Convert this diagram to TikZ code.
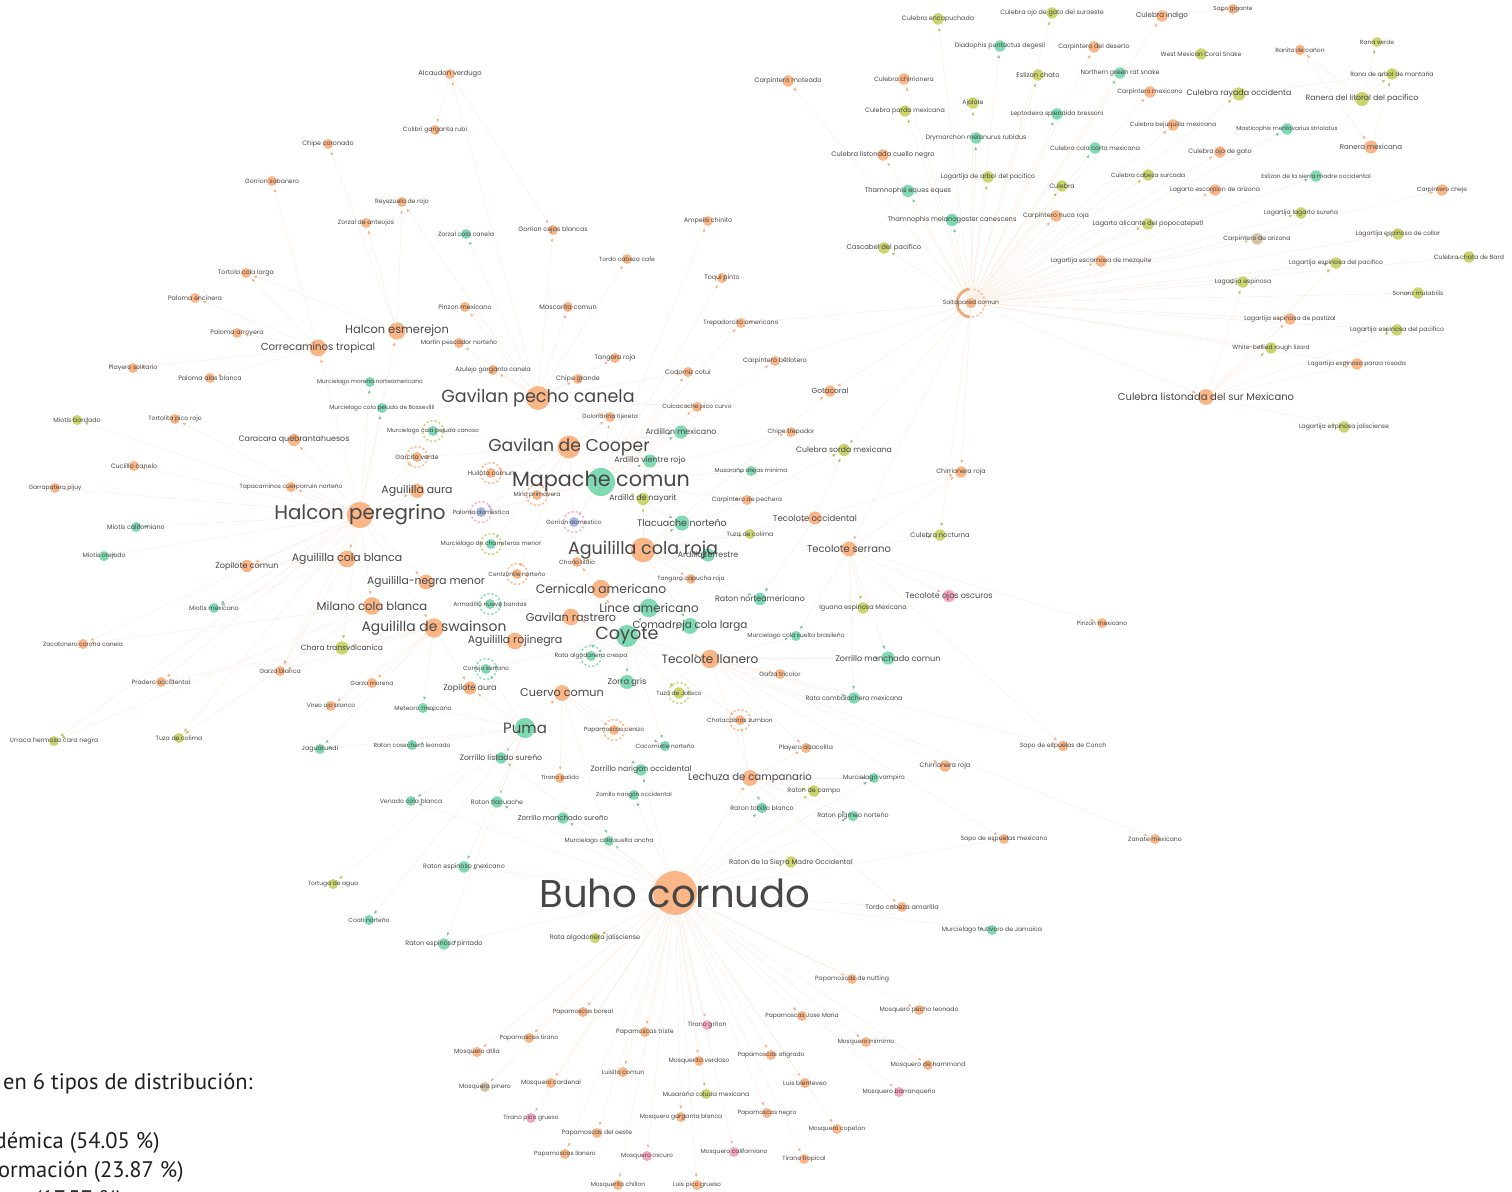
\documentclass[tikz,border=0pt]{standalone}
\usepackage{fontspec}
\setmainfont{Poppins}
\newfontfamily\legendfont{PT Sans}
\usetikzlibrary{arrows.meta, backgrounds}

\definecolor{nOr}{RGB}{251,182,135}
\definecolor{nGr}{RGB}{127,217,178}
\definecolor{nYe}{RGB}{203,212,110}
\definecolor{nPk}{RGB}{247,168,196}
\definecolor{nBl}{RGB}{170,185,232}
\definecolor{nTn}{RGB}{214,196,166}
\definecolor{edgec}{RGB}{252,237,226}

\pgfdeclarelayer{labels}
\pgfsetlayers{background,main,labels}

\tikzset{
  sp/.style={circle, inner sep=0pt, draw=none},
  nOr/.style={sp, fill=nOr}, nGr/.style={sp, fill=nGr}, nYe/.style={sp, fill=nYe},
  nPk/.style={sp, fill=nPk}, nBl/.style={sp, fill=nBl}, nTn/.style={sp, fill=nTn},
  lbl/.style={font=\fontsize{#1}{#1}\selectfont, text=black!72, inner sep=0pt},
  link/.style={draw=edgec, line width=0.3pt, shorten >=1.4pt},
  tipnOr/.style={-{Latex[length=2pt,width=1.6pt,color=nOr!95!red]}},
  tipnGr/.style={-{Latex[length=2pt,width=1.6pt,color=nGr!90!black]}},
  tipnYe/.style={-{Latex[length=2pt,width=1.6pt,color=nYe!90!black]}},
  tipnPk/.style={-{Latex[length=2pt,width=1.6pt,color=nPk]}},
  tipnBl/.style={-{Latex[length=2pt,width=1.6pt,color=nBl]}},
  tipnTn/.style={-{Latex[length=2pt,width=1.6pt,color=nTn]}},
  ring/.style={dash pattern=on 1.3pt off 1.1pt, line width=0.9pt, opacity=0.85},
  legend/.style={font=\legendfont\fontsize{12.8}{15}\selectfont, text=black!88, inner sep=0pt}
}

% species node: style, name, position, diameter, label size, label
\newcommand{\spc}[6]{%
  \node[#1, minimum size=#4pt] (#2) at (#3) {};
  \expandafter\xdef\csname nc@#2\endcsname{#1}%
  \begin{pgfonlayer}{labels}
    \node[lbl=#5] (#2-t) at (#2) {#6};
  \end{pgfonlayer}}

% links from one species to a list of others
\newcommand{\links}[2]{%
  \foreach \b in {#2}{%
    \edef\tmp{\noexpand\draw[link, tip\csname nc@\b\endcsname] (#1) -- (\b);}\tmp}}

\begin{document}
\begin{tikzpicture}[x=0.02cm, y=-0.02cm]
\useasboundingbox (0,0) rectangle (1512,1192);
\clip (0,0) rectangle (1512,1192);

% birds, mammals and others around the hawks
\spc{nOr}{alcaudon}{450,74}{5.7}{3.9}{Alcaudon verdugo}
\spc{nOr}{colibri}{435,130}{5.7}{3.5}{Colibri garganta rubi}
\spc{nOr}{chipecor}{328,144}{5.7}{3.6}{Chipe coronado}
\spc{nOr}{gorrsab}{272,181}{5.7}{3.5}{Gorrion sabanero}
\spc{nOr}{reyez}{402,202}{5.7}{3.5}{Reyezuelo de rojo}
\spc{nOr}{zorzant}{366,223}{5.7}{3.5}{Zorzal de anteojos}
\spc{nGr}{zorzcan}{466,234}{5.7}{3.5}{Zorzal cola canela}
\spc{nOr}{gorrceja}{553,230}{5.7}{3.6}{Gorrion cejas blancas}
\spc{nOr}{ampelis}{708,221}{5.7}{3.6}{Ampelis chinito}
\spc{nOr}{tordocafe}{627,259}{5.7}{3.4}{Tordo cabeza cafe}
\spc{nOr}{toqui}{722,278}{5.7}{3.6}{Toqui pinto}
\spc{nOr}{tortcola}{246,273}{5.7}{3.6}{Tortola cola larga}
\spc{nOr}{palenc}{195,298}{5.7}{3.6}{Paloma encinera}
\spc{nOr}{pinzon}{465,307}{5.7}{3.6}{Pinzon mexicano}
\spc{nOr}{mascar}{568,307}{5.7}{3.7}{Mascarita comun}
\spc{nOr}{trepadorc}{741,323}{5.7}{3.5}{Trepadorcito americano}
\spc{nOr}{halesm}{397,331}{9.8}{6.5}{Halcon esmerejon}
\spc{nOr}{palarr}{237,333}{5.7}{3.6}{Paloma arroyera}
\spc{nOr}{martin}{459,343}{5.7}{3.5}{Martin pescador norteño}
\spc{nOr}{correc}{318,348}{9.6}{5.8}{Correcaminos tropical}
\spc{nOr}{tangara}{615,358}{5.7}{3.6}{Tangara roja}
\spc{nOr}{carpbel}{775,361}{5.7}{3.6}{Carpintero bellotero}
\spc{nOr}{playsol}{133,368}{5.7}{3.5}{Playero solitario}
\spc{nOr}{azulejo}{493,370}{5.7}{3.5}{Azulejo garganta canela}
\spc{nOr}{codorniz}{688,372}{5.7}{3.6}{Codorniz cotui}
\spc{nOr}{palalas}{210,378}{5.7}{3.6}{Paloma alas blanca}
\spc{nOr}{chipegr}{578,379}{5.7}{3.6}{Chipe grande}
\spc{nGr}{murcmor}{370,382}{5.7}{3.3}{Murcielago moreno norteamericano}
\spc{nOr}{gavpecho}{538,398}{13.6}{10}{Gavilan pecho canela}
\spc{nOr}{gotacor}{830,391}{6.5}{4.2}{Gotacoral}
\spc{nGr}{murcboss}{382,408}{5.7}{3.3}{Murcielago cola peluda de Bossevilli}
\spc{nOr}{cuicac}{697,407}{5.7}{3.4}{Cuicacoche pico curvo}
\spc{nOr}{golond}{610,417}{5.7}{3.4}{Golondrina tijereta}
\spc{nYe}{miobord}{77,420}{5.7}{3.6}{Miotis bordado}
\spc{nOr}{tortpico}{175,419}{5.7}{3.5}{Tortolita pico rojo}
\spc{nGr}{murccan}{433,431}{5.7}{3.3}{Murcielago cola peluda canoso}
\spc{nGr}{ardillon}{681,432}{7.5}{4.5}{Ardillon mexicano}
\spc{nOr}{chipetrep}{791,432}{5.7}{3.5}{Chipe trepador}
\spc{nOr}{caracara}{294,440}{7}{4.5}{Caracara quebrantahuesos}
\spc{nOr}{gavcoop}{569,447}{13}{9.8}{Gavilan de Cooper}
\spc{nYe}{culsorda}{844,450}{7}{4.4}{Culebra sorda mexicana}
\spc{nOr}{garcita}{417,457}{5.7}{3.6}{Garcita verde}
\spc{nGr}{ardvien}{650,461}{7.5}{4.5}{Ardilla vientre rojo}
\spc{nOr}{cuclillo}{134,466}{5.7}{3.6}{Cuclillo canelo}
\spc{nGr}{musaor}{751,471}{5.7}{3.3}{Musaraña orejas minima}
\spc{nOr}{chirr1}{961,472}{6.5}{3.6}{Chirrionera roja}
\spc{nOr}{huilota}{491,473}{5.7}{3.6}{Huilota comun}
\spc{nGr}{mapache}{601,482}{16}{11.8}{Mapache comun}
\spc{nOr}{tapacam}{291,487}{5.7}{3.4}{Tapacaminos cuerporruin norteño}
\spc{nOr}{garrap}{55,488}{5.7}{3.4}{Garrapatero pijuy}
\spc{nOr}{aguaura}{417,491}{8}{6.2}{Aguililla aura}
\spc{nOr}{mirlo}{537,495}{5.7}{3.4}{Mirlo primavera}
\spc{nYe}{ardnay}{643,499}{7}{4.5}{Ardilla de nayarit}
\spc{nOr}{carppech}{747,500}{5.7}{3.5}{Carpintero de pechera}
\spc{nBl}{paldom}{481,512}{5.7}{3.4}{Paloma domestica}
\spc{nOr}{halpere}{360,515}{15}{11.3}{Halcon peregrino}
\spc{nOr}{tecoocc}{815,518}{7.5}{4.85}{Tecolote occidental}
\spc{nBl}{gorrdom}{574,522}{5.7}{3.4}{Gorrion domestico}
\spc{nGr}{tlacuache}{682,523}{8.5}{5.4}{Tlacuache norteño}
\spc{nGr}{miocal}{136,527}{5.7}{3.6}{Miotis californiano}
\spc{nYe}{tuzacol2}{750,534}{5.7}{3.5}{Tuza de colima}
\spc{nYe}{culnoct}{940,535}{6.5}{3.8}{Culebra nocturna}
\spc{nGr}{murccharr}{491,544}{5.7}{3.4}{Murcielago de charreteras menor}
\spc{nOr}{tecoserr}{849,549}{8.5}{5.7}{Tecolote serrano}
\spc{nGr}{ardterr}{708,555}{7.5}{4.5}{Ardilla terrestre}
\spc{nOr}{aguroja}{643,550}{14}{10}{Aguililla cola roja}
\spc{nGr}{mioorej}{104,556}{5.7}{3.5}{Miotis orejudo}
\spc{nOr}{aguiblan}{347,559}{9.6}{6.2}{Aguililla cola blanca}
\spc{nOr}{chorlo}{577,562}{5.7}{3.4}{Chorlo tildio}
\spc{nOr}{zopcom}{247,566}{7}{4.6}{Zopilote comun}
\spc{nOr}{centz}{517,574}{5.7}{3.4}{Centzontle norteño}
\spc{nOr}{tangcap}{691,579}{5.7}{3.4}{Tangara capucha roja}
\spc{nOr}{agunegra}{426,582}{8.5}{6.1}{Aguililla-negra menor}
\spc{nOr}{cernic}{601,589}{10.5}{7}{Cernicalo americano}
\spc{nPk}{tecoojos}{949,596}{7}{4.6}{Tecolote ojos oscuros}
\spc{nGr}{ratonnort}{760,599}{7}{4.5}{Raton norteamericano}
\spc{nGr}{armad}{490,604}{5.7}{3.4}{Armadillo nueve bandas}
\spc{nOr}{milano}{372,606}{10}{6.6}{Milano cola blanca}
\spc{nYe}{iguana}{863,608}{6.5}{3.7}{Iguana espinosa Mexicana}
\spc{nGr}{lince}{649,608}{10.5}{6.8}{Lince americano}
\spc{nGr}{miomex}{214,608}{5.7}{3.5}{Miotis mexicano}
\spc{nOr}{gavrast}{571,617}{9.5}{6.4}{Gavilan rastrero}
\spc{nOr}{pinzon2}{1102,623}{5.7}{3.4}{Pinzon mexicano}
\spc{nGr}{comad}{690,626}{9}{5.9}{Comadreja cola larga}
\spc{nOr}{aguswain}{434,628}{11}{7.9}{Aguililla de swainson}
\spc{nGr}{coyote}{627,636}{12.5}{10}{Coyote}
\spc{nGr}{murcbras}{796,636}{5.7}{3.4}{Murcielago cola suelta brasileño}
\spc{nOr}{agurojin}{515,641}{9.5}{6.2}{Aguililla rojinegra}
\spc{nOr}{zacat}{83,644}{5.7}{3.4}{Zacatonero corona canela}
\spc{nYe}{chara}{342,648}{7.5}{4.3}{Chara transvolcanica}
\spc{nGr}{ratalgcr}{591,656}{5.7}{3.4}{Rata algodonera crespa}
\spc{nGr}{zormanc}{888,658}{7.5}{4.6}{Zorrillo manchado comun}
\spc{nOr}{tecollan}{710,659}{10.5}{6.9}{Tecolote llanero}
\spc{nGr}{conejo}{486,669}{5.7}{3.4}{Conejo serrano}
\spc{nOr}{garzabl}{280,671}{5.7}{3.5}{Garza blanca}
\spc{nOr}{garzatri}{780,674}{5.7}{3.5}{Garza tricolor}
\spc{nOr}{pradero}{161,682}{5.7}{3.5}{Pradero occidental}
\spc{nGr}{zorra}{627,682}{8}{4.7}{Zorra gris}
\spc{nOr}{garzamor}{372,683}{5.7}{3.4}{Garza morena}
\spc{nOr}{zopaura}{470,688}{7.5}{4.6}{Zopilote aura}
\spc{nYe}{tuzajal}{679,693}{6.5}{3.4}{Tuza de Jalisco}
\spc{nOr}{cuervo}{562,693}{9}{6.4}{Cuervo comun}
\spc{nGr}{ratacamb}{854,698}{6.5}{3.6}{Rata cambalachera mexicana}
\spc{nOr}{vireo}{331,706}{5.7}{3.4}{Vireo ojo blanco}
\spc{nGr}{meteoro}{423,708}{5.7}{3.5}{Meteoro mexicano}
\spc{nOr}{chotac}{740,720}{5.7}{3.4}{Chotacabras zumbon}
\spc{nGr}{puma}{525,728}{11.5}{8.5}{Puma}
\spc{nOr}{papacen}{614,730}{5.7}{3.4}{Papamoscas cenizo}
\spc{nYe}{tuzacol}{179,738}{5.7}{3.5}{Tuza de colima}
\spc{nYe}{urraca}{54,741}{5.7}{3.6}{Urraca hermosa cara negra}
\spc{nGr}{ratoncos}{412,745}{5.7}{3.4}{Raton cosechero leonado}
\spc{nOr}{playalz}{806,748}{5.7}{3.5}{Playero alzacolita}
\spc{nOr}{sapoconch}{1063,746}{6}{3.5}{Sapo de espuelas de Conch}
\spc{nGr}{cacomix}{665,746}{5.7}{3.4}{Cacomixtle norteño}
\spc{nGr}{jaguar}{320,749}{5.7}{3.6}{Jaguarundi}
\spc{nGr}{zorlist}{501,758}{6.5}{4.4}{Zorrillo listado sureño}
\spc{nOr}{chirr2}{945,766}{6.5}{3.7}{Chirrionera roja}
\spc{nGr}{zornar}{641,770}{6.5}{4.4}{Zorrillo narigon occidental}
\spc{nOr}{tiranopal}{560,778}{5.7}{3.3}{Tirano palido}
\spc{nOr}{lechuza}{750,778}{9}{5.8}{Lechuza de campanario}
\spc{nGr}{murcvamp}{874,778}{5.7}{3.5}{Murcielago vampiro}
\spc{nYe}{ratoncamp}{814,791}{6.5}{3.6}{Raton de campo}
\spc{nGr}{zornar2}{634,795}{5.7}{3.3}{Zorrillo narigon occidental}
\spc{nGr}{venado}{411,801}{5.7}{3.5}{Venado cola blanca}
\spc{nGr}{ratontlac}{497,802}{6.5}{3.6}{Raton tlacuache}
\spc{nGr}{ratontob}{762,808}{6}{3.6}{Raton tobillo blanco}
\spc{nGr}{ratonpig}{853,816}{6}{3.6}{Raton pigmeo norteño}
\spc{nGr}{zormansur}{563,818}{6.5}{4}{Zorrillo manchado sureño}
\spc{nOr}{sapoesmex}{1004,839}{5.7}{3.5}{Sapo de espuelas mexicano}
\spc{nOr}{zanate}{1155,839}{5.7}{3.5}{Zanate mexicano}
\spc{nGr}{murcancha}{609,841}{5.7}{3.4}{Murcielago cola suelta ancha}
\spc{nYe}{ratonsmo}{791,862}{6.5}{3.9}{Raton de la Sierra Madre Occidental}
\spc{nGr}{ratonespm}{464,867}{6.5}{3.6}{Raton espinoso mexicano}
\spc{nYe}{tortuga}{333,884}{5.7}{3.4}{Tortuga de agua}
\spc{nOr}{buho}{675,893}{25}{22}{Buho cornudo}
\spc{nOr}{tordoam}{902,907}{5.7}{3.7}{Tordo cabeza amarilla}
\spc{nGr}{coati}{369,920}{5.7}{3.4}{Coati norteño}
\spc{nGr}{murcfrut}{992,930}{5.7}{3.5}{Murcielago frutivoro de Jamaica}
\spc{nYe}{rataljal}{595,938}{6}{3.7}{Rata algodonera jalisciense}
\spc{nGr}{ratonespp}{444,944}{6.5}{3.7}{Raton espinoso pintado}

% flycatchers under the owl
\spc{nOr}{papnut}{852,979}{5.7}{3.5}{Papamoscas de nutting}
\spc{nOr}{mosqpecho}{919,1010}{5.7}{3.5}{Mosquero pecho leonado}
\spc{nOr}{papbor}{583,1012}{5.7}{3.4}{Papamoscas boreal}
\spc{nOr}{papjose}{802,1016}{5.7}{3.4}{Papamoscas Jose Maria}
\spc{nPk}{tiranogr}{707,1025}{5.7}{3.5}{Tirano griton}
\spc{nOr}{paptriste}{645,1032}{5.7}{3.5}{Papamoscas triste}
\spc{nOr}{paptir}{529,1038}{5.7}{3.4}{Papamoscas tirano}
\spc{nOr}{mosqmim}{866,1042}{5.7}{3.4}{Mosquero mimimo}
\spc{nOr}{mosqatila}{477,1052}{5.7}{3.5}{Mosquero atila}
\spc{nOr}{papatig}{771,1055}{5.7}{3.4}{Papamoscas atigrado}
\spc{nOr}{mosqverd}{699,1061}{5.7}{3.5}{Mosquerito verdoso}
\spc{nOr}{mosqham}{928,1065}{5.7}{3.5}{Mosquero de hammond}
\spc{nOr}{luisito}{623,1072}{5.7}{3.5}{Luisito comun}
\spc{nOr}{mosqcard}{551,1083}{5.7}{3.5}{Mosquero cardenal}
\spc{nOr}{luisbien}{805,1083}{5.7}{3.5}{Luis bienteveo}
\spc{nTn}{mosqpin}{485,1087}{5.7}{3.5}{Mosquero pinero}
\spc{nPk}{mosqbarr}{899,1092}{5.7}{3.5}{Mosquero barranqueño}
\spc{nYe}{musacol}{706,1094}{5.7}{3.5}{Musaraña coluda mexicana}
\spc{nOr}{papnegro}{767,1113}{5.7}{3.4}{Papamoscas negro}
\spc{nOr}{mosqgarg}{681,1117}{5.7}{3.4}{Mosquero garganta blanca}
\spc{nPk}{tiranopico}{531,1118}{5.7}{3.4}{Tirano pico grueso}
\spc{nOr}{mosqcop}{837,1129}{5.7}{3.4}{Mosquero copeton}
\spc{nOr}{papoeste}{597,1133}{5.7}{3.5}{Papamoscas del oeste}
\spc{nPk}{mosqcal}{734,1152}{5.7}{3.4}{Mosquero californiano}
\spc{nOr}{papllan}{565,1154}{5.7}{3.4}{Papamoscas llanero}
\spc{nPk}{mosqosc}{647,1156}{5.7}{3.4}{Mosquero oscuro}
\spc{nOr}{tiranotrop}{804,1159}{5.7}{3.4}{Tirano tropical}
\spc{nOr}{mosqchil}{618,1185}{5.7}{3.4}{Mosquerito chillon}
\spc{nOr}{luispico}{697,1185}{5.7}{3.4}{Luis pico grueso}

% reptiles and amphibians around the wren
\spc{nYe}{culencap}{938,19}{6.5}{3.6}{Culebra encapuchada}
\spc{nYe}{culojogs}{1052,13}{6.5}{3.6}{Culebra ojo de gato del suroeste}
\spc{nOr}{culindigo}{1162,16}{6.5}{4}{Culebra indigo}
\spc{nOr}{sapogig}{1233,9}{5.7}{3.3}{Sapo gigante}
\spc{nGr}{diadoph}{1000,46}{6.5}{3.6}{Diadophis puntactus degesii}
\spc{nOr}{carpdes}{1094,47}{6.5}{3.6}{Carpintero del deserto}
\spc{nYe}{wmcoral}{1201,54}{6.5}{3.5}{West Mexican Coral Snake}
\spc{nOr}{ranitacan}{1300,50}{6}{3.4}{Ranita de cañon}
\spc{nYe}{ranaverde}{1377,42}{5.7}{3.4}{Rana verde}
\spc{nGr}{ngrat}{1120,73}{6.5}{3.6}{Northern green rat snake}
\spc{nYe}{eslchato}{1038,75}{6.5}{3.8}{Eslizon chato}
\spc{nOr}{culchirr}{904,79}{6.5}{3.5}{Culebra chirrionera}
\spc{nOr}{carpmot}{788,81}{6.5}{3.7}{Carpintero moteado}
\spc{nYe}{ranaarbol}{1392,74}{6.5}{3.5}{Rana de arbol de montaña}
\spc{nOr}{carpmex}{1150,92}{6.5}{3.5}{Carpintero mexicano}
\spc{nYe}{culrayada}{1239,94}{7.5}{4.5}{Culebra rayada occidenta}
\spc{nYe}{raneralit}{1362,99}{8}{4.4}{Ranera del litoral del pacifico}
\spc{nYe}{ajolote}{973,103}{6.5}{3.5}{Ajolote}
\spc{nYe}{culparda}{905,111}{6.5}{3.6}{Culebra parda mexicana}
\spc{nGr}{leptod}{1057,114}{6.5}{3.5}{Leptodeira splendida bressoni}
\spc{nOr}{culbejuq}{1173,125}{6.5}{3.4}{Culebra bejuquilla mexicana}
\spc{nGr}{mastic}{1287,129}{6.5}{3.3}{Masticophis mentovarius striolatus}
\spc{nGr}{drymarch}{976,138}{6.5}{3.6}{Drymarchon melanurus rubidus}
\spc{nOr}{raneramex}{1371,147}{7.5}{4}{Ranera mexicana}
\spc{nGr}{culcorta}{1095,148}{6.5}{3.5}{Culebra cola corta mexicana}
\spc{nOr}{culojog}{1220,152}{6.5}{3.6}{Culebra ojo de gato}
\spc{nOr}{cullistcn}{883,155}{6.5}{3.8}{Culebra listonada cuello negro}
\spc{nYe}{culcabsur}{1148,175}{6.5}{3.4}{Culebra cabeza surcada}
\spc{nGr}{eslsierra}{1316,176}{6.5}{3.4}{Eslizon de la sierra madre occidental}
\spc{nYe}{lagarbol}{988,177}{6.5}{3.6}{Lagartija de arbol del pacifico}
\spc{nYe}{culebra}{1062,186}{6.5}{3.6}{Culebra}
\spc{nOr}{lagescarz}{1215,190}{6.5}{3.5}{Lagarto escorpion de arizona}
\spc{nOr}{carpcheje}{1442,190}{6.5}{3.4}{Carpintero cheje}
\spc{nGr}{thameq}{908,191}{7}{3.8}{Thamnophis eques eques}
\spc{nYe}{laglagsur}{1301,213}{6.5}{3.5}{Lagartija lagarto sureña}
\spc{nOr}{carpnuca}{1056,216}{6.5}{3.6}{Carpintero nuca roja}
\spc{nGr}{thammel}{952,220}{7}{3.8}{Thamnophis melanogaster canescens}
\spc{nYe}{lagalic}{1148,224}{6.5}{3.7}{Lagarto alicante del popocatepetl}
\spc{nTn}{carparz}{1257,239}{6.5}{3.5}{Carpintero de arizona}
\spc{nYe}{lagespcol}{1398,234}{6.5}{3.5}{Lagartija espinosa de collar}
\spc{nYe}{cascabel}{884,248}{6.5}{3.9}{Cascabel del pacifico}
\spc{nYe}{culchata}{1469,257}{6.5}{3.5}{Culebra chata de Bard}
\spc{nOr}{lagescmez}{1101,261}{6.5}{3.5}{Lagartija escamosa de mezquite}
\spc{nYe}{lagesppac}{1336,263}{6.5}{3.5}{Lagartija espinosa del pacifico}
\spc{nYe}{lagesp}{1243,282}{6.5}{3.5}{Lagartija espinosa}
\spc{nYe}{sonora}{1418,293}{6.5}{3.4}{Sonora mutabilis}
\spc{nOr}{salta}{971,303}{6}{3.4}{Saltapared comun}
\spc{nOr}{lagesppast}{1290,319}{6.5}{3.5}{Lagartija espinosa de pastizal}
\spc{nYe}{lagesppac2}{1397,330}{6.5}{3.5}{Lagartija espinosa del pacifico}
\spc{nYe}{whitebel}{1271,348}{6.5}{3.4}{White-bellied rough lizard}
\spc{nOr}{lagesppanza}{1357,364}{6.5}{3.4}{Lagartija espinosa panza rosada}
\spc{nOr}{culsur}{1206,397}{9}{5.7}{Culebra listonada del sur Mexicano}
\spc{nYe}{lagespjal}{1344,427}{6.5}{3.5}{Lagartija espinosa jalisciense}

% self loops
\foreach \n/\c in {garcita/nOr, huilota/nOr, mirlo/nOr, centz/nOr, chotac/nOr, papacen/nOr,
    paldom/nPk, gorrdom/nPk, murccharr/nYe, murccan/nYe, armad/nGr, conejo/nGr,
    ratalgcr/nGr, tuzajal/nYe}
  \draw[ring, draw=\c] (\n) circle (6pt);
\draw[line width=1.6pt, draw=nOr!80!brown] (salta) ++(95:8pt) arc (95:265:8pt);
\draw[ring, draw=nOr] (salta) ++(-85:8pt) arc (-85:85:8pt);

\begin{pgfonlayer}{background}
\links{salta}{culencap, culojogs, diadoph, carpdes, eslchato, ngrat, culchirr, carpmot, carpmex,
  culrayada, ajolote, culparda, leptod, culbejuq, mastic, drymarch, culcorta, culojog, cullistcn,
  culcabsur, eslsierra, lagarbol, culebra, lagescarz, carpcheje, thameq, laglagsur, carpnuca,
  thammel, lagalic, carparz, lagespcol, cascabel, culchata, lagescmez, lagesppac, lagesp, sonora,
  lagesppast, lagesppac2, whitebel, lagesppanza, culsur, culindigo, gotacor, carpbel, trepadorc,
  chirr1, culsorda, culnoct, tecoserr}
\links{culsur}{lagesp, lagesppast, whitebel, lagesppanza, lagespjal, lagesppac2, lagesppac}
\links{raneralit}{ranaverde, ranaarbol, ranitacan}
\links{ranitacan}{raneramex}
\links{raneramex}{ranaarbol}
\links{culindigo}{sapogig}
\links{culrayada}{ranaarbol}
\links{correc}{tortcola, palenc, palarr, playsol, palalas, gorrsab}
\links{halesm}{chipecor, zorzant, reyez, tortcola}
\links{halpere}{miobord, tortpico, cuclillo, garrap, miocal, mioorej, caracara, tapacam, zopcom,
  miomex, zacat, pradero, garzabl, urraca, tuzacol, correc, halesm, aguiblan, milano, aguswain,
  agunegra, chara, aguaura, murcboss, murcmor, paldom, garcita}
\links{gavpecho}{alcaudon, reyez, zorzcan, pinzon, mascar, martin, azulejo, chipegr, tangara,
  golond, gorrceja, tordocafe, cuicac, codorniz}
\links{alcaudon}{colibri, gorrceja}
\links{mapache}{ardillon, ardvien, huilota, mirlo, carppech, musaor, ardnay, codorniz, cuicac,
  toqui, ampelis, trepadorc, carpbel, chipetrep, tlacuache, gorrdom, paldom, golond}
\links{aguroja}{tlacuache, ardterr, tuzacol2, tangcap, chorlo, ratonnort, comad, ardnay, gotacor,
  culsorda, tecoocc}
\links{coyote}{lince, comad, zorra, ratalgcr, tuzajal, cacomix, conejo, armad, gavrast, cernic,
  chotac, tecollan}
\links{buho}{zornar, zornar2, murcancha, rataljal, ratonsmo, tordoam, murcfrut, papnut, mosqpecho,
  papbor, papjose, tiranogr, paptriste, paptir, mosqmim, mosqatila, papatig, mosqverd, mosqham,
  luisito, mosqcard, luisbien, mosqpin, mosqbarr, musacol, papnegro, mosqgarg, tiranopico, mosqcop,
  papoeste, mosqcal, papllan, mosqosc, tiranotrop, mosqchil, luispico, ratonespm, ratontlac,
  zormansur, ratontob, ratonpig, ratoncamp, lechuza, sapoesmex, ratonespp, venado, murcvamp, zorlist}
\links{tecoserr}{tecoojos, pinzon2, culnoct, chirr1, iguana, zormanc, ratacamb, murcbras, sapoconch}
\links{tecoocc}{chirr1, culsorda, ratonnort}
\links{tecollan}{garzatri, ratacamb, zormanc, playalz, murcbras, ratontob, chirr2, sapoconch,
  zanate, sapoesmex}
\links{puma}{zorlist, venado, ratontlac, meteoro, ratoncos, jaguar, ratonespm, ratonespp, conejo,
  coati, tortuga, zopaura, cuervo}
\links{aguswain}{garzamor, vireo, chara, meteoro, zopaura, garzabl, pradero, jaguar}
\links{cuervo}{papacen, tiranopal, zornar, cacomix, murcancha}
\links{aguiblan}{zopcom, miomex, garzabl}
\links{milano}{zacat, urraca, tuzacol}
\links{gavcoop}{garcita, huilota, murccan, golond, ardillon, mirlo, centz, chorlo, paldom, murccharr}
\links{cernic}{centz, chorlo, armad, tangcap, ratalgcr}
\links{lechuza}{murcvamp, ratoncamp, playalz, ratonpig, chotac, tordoam}
\end{pgfonlayer}

% legend, cut by the page edges
\node[legend, anchor=base east] (legA) at (253,1089) {en 6 tipos de distribución:};
\node[legend, anchor=base east] (legB) at (160,1148) {démica (54.05 \%)};
\node[legend, anchor=base east] (legC) at (184,1177) {ormación (23.87 \%)};
\node[legend, anchor=base east] (legD) at (123,1206) {(17.57 \%)};
\end{tikzpicture}
\end{document}
